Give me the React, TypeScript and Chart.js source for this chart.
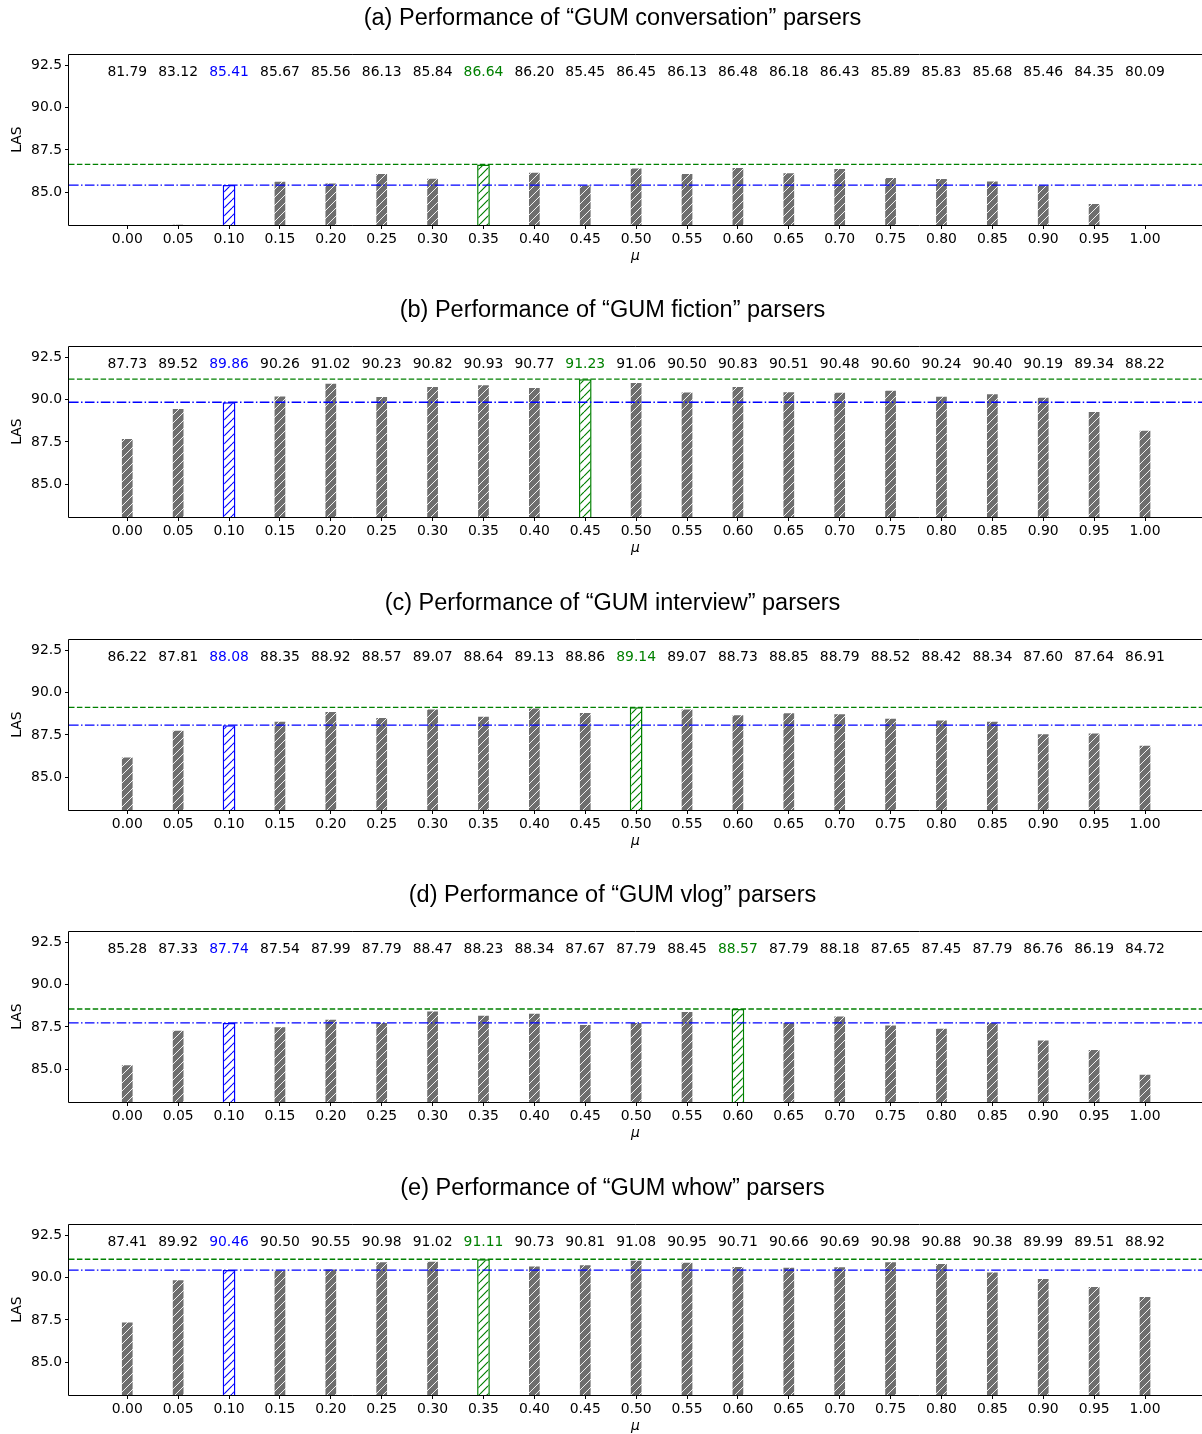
import React, { useEffect, useRef } from "react";
import { Chart, registerables } from "chart.js";

Chart.register(...registerables);

// ---------------- data ----------------
const muLabels = [
  "0.00", "0.05", "0.10", "0.15", "0.20", "0.25", "0.30", "0.35", "0.40", "0.45", "0.50",
  "0.55", "0.60", "0.65", "0.70", "0.75", "0.80", "0.85", "0.90", "0.95", "1.00",
];

const titles = [
  "(a) Performance of \u201cGUM conversation\u201d parsers",
  "(b) Performance of \u201cGUM fiction\u201d parsers",
  "(c) Performance of \u201cGUM interview\u201d parsers",
  "(d) Performance of \u201cGUM vlog\u201d parsers",
  "(e) Performance of \u201cGUM whow\u201d parsers",
];

const conversationLAS = [
  81.79, 83.12, 85.41, 85.67, 85.56, 86.13, 85.84, 86.64, 86.2, 85.45, 86.45,
  86.13, 86.48, 86.18, 86.43, 85.89, 85.83, 85.68, 85.46, 84.35, 80.09,
];
const fictionLAS = [
  87.73, 89.52, 89.86, 90.26, 91.02, 90.23, 90.82, 90.93, 90.77, 91.23, 91.06,
  90.5, 90.83, 90.51, 90.48, 90.6, 90.24, 90.4, 90.19, 89.34, 88.22,
];
const interviewLAS = [
  86.22, 87.81, 88.08, 88.35, 88.92, 88.57, 89.07, 88.64, 89.13, 88.86, 89.14,
  89.07, 88.73, 88.85, 88.79, 88.52, 88.42, 88.34, 87.6, 87.64, 86.91,
];
const vlogLAS = [
  85.28, 87.33, 87.74, 87.54, 87.99, 87.79, 88.47, 88.23, 88.34, 87.67, 87.79,
  88.45, 88.57, 87.79, 88.18, 87.65, 87.45, 87.79, 86.76, 86.19, 84.72,
];
const whowLAS = [
  87.41, 89.92, 90.46, 90.5, 90.55, 90.98, 91.02, 91.11, 90.73, 90.81, 91.08,
  90.95, 90.71, 90.66, 90.69, 90.98, 90.88, 90.38, 89.99, 89.51, 88.92,
];

const panelValues = [conversationLAS, fictionLAS, interviewLAS, vlogLAS, whowLAS];
const yTickValues = [85, 87.5, 90, 92.5];
const baselineIndex = 2; // mu = 0.10
const Y_MIN = 83.04;
const Y_MAX = 93.2;
const LABEL_Y = 92.08;

// ---------------- layout / style ----------------
const PANEL_TOPS = [0, 292, 585, 877, 1170];
const W = 1202;
const H = 292;
const FONT_FAMILY = "'DejaVu Sans', sans-serif";
const FONT_SIZE = 13.9;
const BLUE = "#0000ff";
const GREEN = "#008000";
const GRAY = "#6e6e6e";

function makeHatch(bg: string, fg: string, lw: number) {
  const s = 8;
  const c = document.createElement("canvas");
  c.width = s;
  c.height = s;
  const g = c.getContext("2d")!;
  g.fillStyle = bg;
  g.fillRect(0, 0, s, s);
  g.strokeStyle = fg;
  g.lineWidth = lw;
  g.beginPath();
  for (let k = -1; k <= 1; k++) {
    g.moveTo(k * s, s);
    g.lineTo(k * s + s, 0);
  }
  g.stroke();
  return g.createPattern(c, "repeat")!;
}

function Panel({ title, values, top }: { title: string; values: number[]; top: number }) {
  const ref = useRef<HTMLCanvasElement | null>(null);

  useEffect(() => {
    const canvas = ref.current!;
    const best = values.indexOf(Math.max(...values));
    const grayPat = makeHatch(GRAY, "rgba(255,255,255,0.9)", 1);
    const bluePat = makeHatch("#ffffff", BLUE, 1.1);
    const greenPat = makeHatch("#ffffff", GREEN, 1.2);

    const plainPoints = values
      .map((v, i) => ({ x: i, y: v }))
      .filter((p) => p.x !== baselineIndex && p.x !== best);
    const basePoints = [{ x: baselineIndex, y: values[baselineIndex] }];
    const bestPoints = [{ x: best, y: values[best] }];

    const textColor = (i: number) => (i === baselineIndex ? BLUE : i === best ? GREEN : "#000");

    const overlay = {
      id: "overlay",
      afterDatasetsDraw(chart: any) {
        const ctx = chart.ctx;
        const { left, right, top: t, bottom } = chart.chartArea;
        const ys = chart.scales.y;
        const xs = chart.scales.x;
        ctx.save();
        // reference lines
        const drawH = (v: number, color: string, dash: number[]) => {
          const y = ys.getPixelForValue(v);
          ctx.beginPath();
          ctx.strokeStyle = color;
          ctx.lineWidth = 1.4;
          ctx.setLineDash(dash);
          ctx.moveTo(left, y);
          ctx.lineTo(right, y);
          ctx.stroke();
        };
        drawH(values[best], GREEN, [5.5, 2.4]);
        drawH(values[baselineIndex], BLUE, [9.6, 2.4, 1.5, 2.4]);
        ctx.setLineDash([]);
        // frame (left, top, bottom)
        ctx.strokeStyle = "#000";
        ctx.lineWidth = 1;
        ctx.beginPath();
        ctx.moveTo(right + 1, Math.round(t) + 0.5);
        ctx.lineTo(Math.round(left) - 0.5, Math.round(t) + 0.5);
        ctx.lineTo(Math.round(left) - 0.5, Math.round(bottom) + 0.5);
        ctx.lineTo(right + 1, Math.round(bottom) + 0.5);
        ctx.stroke();
        // value labels
        ctx.font = `${FONT_SIZE}px ${FONT_FAMILY}`;
        ctx.textAlign = "center";
        ctx.textBaseline = "middle";
        const ly = ys.getPixelForValue(LABEL_Y);
        values.forEach((v, i) => {
          ctx.fillStyle = textColor(i);
          ctx.fillText(v.toFixed(2), xs.getPixelForValue(i), ly);
        });
        // title
        ctx.fillStyle = "#000";
        ctx.font = `23.5px 'Liberation Sans', Arial, sans-serif`;
        ctx.textAlign = "center";
        ctx.textBaseline = "middle";
        ctx.fillText(title, 612.5, 19);
        ctx.restore();
      },
    };

    const tickFont = { family: FONT_FAMILY, size: FONT_SIZE };
    const halfLine = (FONT_SIZE * 1.2) / 2;
    const common = {
      barPercentage: 0.25,
      categoryPercentage: 1,
      grouped: false,
      clip: 0 as any,
      borderSkipped: "start",
    };

    const chart = new Chart(canvas, {
      type: "bar",
      data: {
        datasets: [
          {
            ...common,
            data: plainPoints,
            backgroundColor: grayPat,
            borderColor: "rgba(255,255,255,0.35)",
            borderWidth: 1,
          },
          {
            ...common,
            data: basePoints,
            backgroundColor: bluePat,
            borderColor: BLUE,
            borderWidth: 1.5,
          },
          {
            ...common,
            data: bestPoints,
            backgroundColor: greenPat,
            borderColor: GREEN,
            borderWidth: 1.5,
          },
        ],
      },
      options: {
        animation: false,
        responsive: false,
        devicePixelRatio: 1,
        events: [],
        layout: { padding: { top: 54, left: 0, right: 0, bottom: 0 } },
        plugins: {
          legend: { display: false },
          tooltip: { enabled: false },
          title: { display: false },
        },
        scales: {
          x: {
            type: "linear",
            min: -1.145,
            max: 21.12,
            offset: false,
            border: { display: false },
            grid: {
              display: true,
              drawOnChartArea: false,
              drawTicks: true,
              tickLength: 4,
              color: "#000",
              offset: false,
            },
            afterBuildTicks: (s: any) => {
              s.ticks = muLabels.map((_, i) => ({ value: i }));
            },
            afterFit: (s: any) => {
              s.height = H - 225;
            },
            ticks: {
              autoSkip: false,
              maxRotation: 0,
              minRotation: 0,
              padding: 2,
              color: "#000",
              font: tickFont,
              callback: (v: any) => muLabels[Math.round(Number(v))] ?? "",
            },
            title: {
              display: true,
              text: "\u03bc",
              color: "#000",
              font: { family: FONT_FAMILY, size: FONT_SIZE, style: "italic" },
              padding: { top: 0, bottom: 36 - halfLine },
            },
          },
          y: {
            type: "linear",
            min: Y_MIN,
            max: Y_MAX,
            border: { display: false },
            grid: {
              display: true,
              drawOnChartArea: false,
              drawTicks: true,
              tickLength: 4,
              color: "#000",
            },
            afterBuildTicks: (s: any) => {
              s.ticks = yTickValues.map((v) => ({ value: v }));
            },
            afterFit: (s: any) => {
              s.width = 69;
            },
            ticks: {
              padding: 3,
              color: "#000",
              font: tickFont,
              callback: (v: any) => Number(v).toFixed(1),
            },
            title: {
              display: true,
              text: "LAS",
              color: "#000",
              font: tickFont,
              padding: { top: 17 - halfLine, bottom: 0 },
            },
          },
        },
      },
      plugins: [overlay],
    } as any);

    return () => chart.destroy();
  }, [title, values]);

  return (
    <canvas
      ref={ref}
      width={W}
      height={H}
      style={{ position: "absolute", left: 0, top, width: W, height: H, display: "block" }}
    />
  );
}

export default function App() {
  useEffect(() => {
    document.body.style.margin = "0";
  }, []);
  return (
    <div
      style={{
        position: "absolute",
        left: 0,
        top: 0,
        width: W,
        height: 1434,
        overflow: "hidden",
        background: "#fff",
      }}
    >
      {panelValues.map((vals, i) => (
        <Panel key={i} title={titles[i]} values={vals} top={PANEL_TOPS[i]} />
      ))}
    </div>
  );
}
